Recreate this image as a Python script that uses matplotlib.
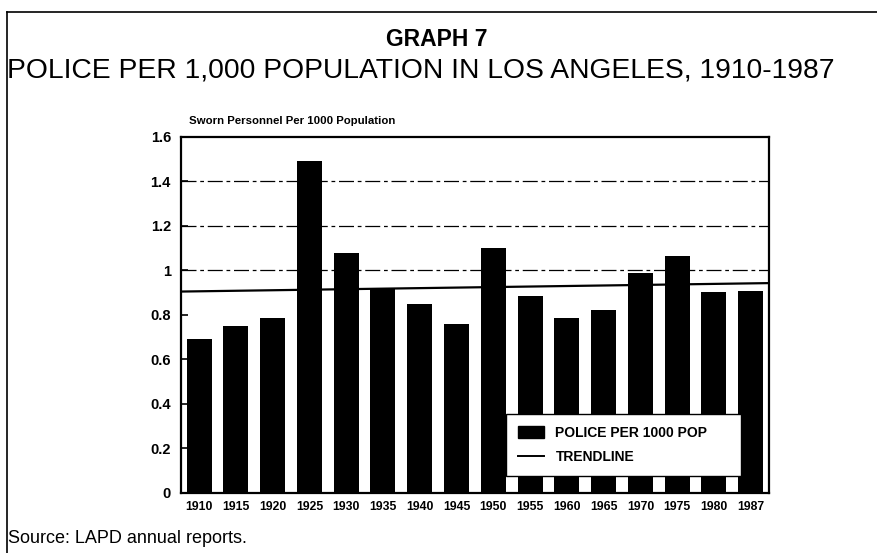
import matplotlib
matplotlib.use("Agg")
from matplotlib import pyplot as plt
from matplotlib.lines import Line2D
from matplotlib.patches import Patch

# values
years = ['1910', '1915', '1920', '1925', '1930', '1935', '1940', '1945',
         '1950', '1955', '1960', '1965', '1970', '1975', '1980', '1987']
police_per_1000 = [0.69, 0.75, 0.785, 1.49, 1.08, 0.92, 0.85, 0.76,
                   1.10, 0.885, 0.787, 0.82, 0.99, 1.063, 0.905, 0.907]
trend_ends = [0.905, 0.943]      # trendline at left / right edge of plot
y_ticks = [0, 0.2, 0.4, 0.6, 0.8, 1, 1.2, 1.4, 1.6]
y_ticklabels = ['0', '0.2', '0.4', '0.6', '0.8', '1', '1.2', '1.4', '1.6']
grid_levels = [1.0, 1.2, 1.4]

plt.rcParams['font.family'] = ['Liberation Sans', 'DejaVu Sans']

fig = plt.figure(figsize=(8.77, 5.53), dpi=100)
ax = fig.add_axes([0.206, 0.1085, 0.671, 0.644])

x = list(range(len(years)))

# broken dash-dot grid behind the bars
for g in grid_levels:
    ax.axhline(g, color='black', lw=0.9, ls=(0, (12, 3, 3, 3)), zorder=1)

ax.bar(x, police_per_1000, width=0.68, color='black', zorder=2,
       label='POLICE PER 1000 POP')
ax.plot([-0.5, len(years) - 0.5], trend_ends, color='black', lw=1.6,
        zorder=3, label='TRENDLINE')

ax.set_xlim(-0.5, len(years) - 0.5)
ax.set_ylim(0, 1.6)
ax.set_xticks(x)
ax.set_xticklabels(years, fontsize=8.8, fontweight='bold')
ax.set_yticks(y_ticks)
ax.set_yticklabels(y_ticklabels, fontsize=10.5, fontweight='bold')
ax.tick_params(axis='y', direction='in', length=5, width=1.2, pad=7)
ax.tick_params(axis='x', length=0, pad=6)
for s in ax.spines.values():
    s.set_linewidth(1.6)

handles = [Patch(facecolor='black', edgecolor='black'),
           Line2D([], [], color='black', lw=1.4)]
leg = ax.legend(handles, ['POLICE PER 1000 POP', 'TRENDLINE'],
                loc='lower left', bbox_to_anchor=(0.553, 0.048, 0.40, 0.17),
                mode='expand', borderaxespad=0, fancybox=False,
                framealpha=1, edgecolor='black',
                prop={'weight': 'bold', 'size': 10},
                handlelength=1.9, handleheight=0.9, handletextpad=0.8,
                labelspacing=0.75, borderpad=0.85)
leg.get_frame().set_linewidth(1.0)
leg.set_zorder(5)

ax.text(0.015, 1.03, 'Sworn Personnel Per 1000 Population',
        transform=ax.transAxes, fontsize=8.2, fontweight='bold', va='bottom')

fig.text(0.498, 0.928, 'GRAPH 7', ha='center', va='center',
         fontsize=16.5, fontweight='bold')
fig.text(0.480, 0.873, 'POLICE PER 1,000 POPULATION IN LOS ANGELES, 1910-1987',
         ha='center', va='center', fontsize=20.3)
fig.text(0.009, 0.027, 'Source: LAPD annual reports.', ha='left',
         va='center', fontsize=13)

# page frame of the scanned figure
fig.add_artist(Line2D([0.008, 1.0], [0.978, 0.978], color='black', lw=1.2,
                      transform=fig.transFigure))
fig.add_artist(Line2D([0.008, 0.008], [0.0, 0.978], color='black', lw=1.2,
                      transform=fig.transFigure))

fig.savefig('out.png', dpi=100)
